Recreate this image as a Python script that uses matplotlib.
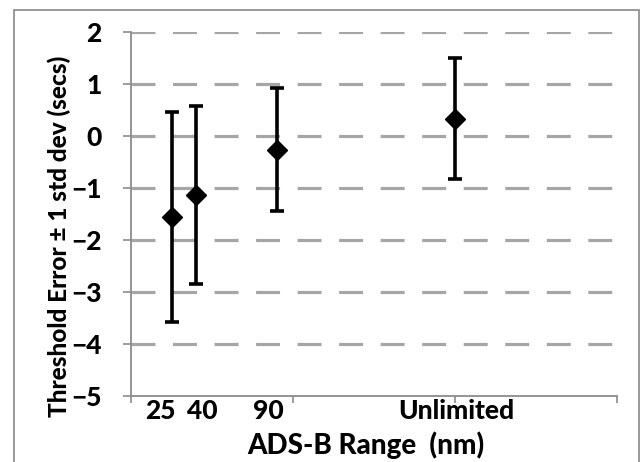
import os
import matplotlib
matplotlib.use("Agg")
import matplotlib.pyplot as plt
from matplotlib import font_manager
from matplotlib.patches import Rectangle

# ADS-B range (nm); "Unlimited" plotted at 200
ranges = [25, 40, 90, 200]
range_labels = ["25", "40", "90", "Unlimited"]
label_pos = [18, 44, 85, 201]

mean_err = [-1.55, -1.13, -0.26, 0.34]
std_err = [2.02, 1.72, 1.18, 1.17]


def find_font(fam, key):
    for f in font_manager.fontManager.ttflist:
        base = os.path.basename(f.fname).lower()
        if f.name.startswith(fam) and key in base and "italic" not in base \
                and "semi" not in base and "extra" not in base:
            return f.fname
    return None


font_file = find_font("Lato", "heavy") or find_font("Lato", "bold")


def fprop(size):
    if font_file:
        return font_manager.FontProperties(fname=font_file, size=size)
    return font_manager.FontProperties(family="DejaVu Sans", weight="bold", size=size - 3)


tick_fp = fprop(19)
xlab_fp = fprop(20)
ylab_fp = fprop(17.6)

fig = plt.figure(figsize=(6.41, 4.62), dpi=100)
ax = fig.add_axes([131 / 641, 1 - 396 / 462, (617 - 131) / 641, (396 - 32.3) / 462])

# outer chart border
fig.patches.append(Rectangle((14 / 641, -0.05), (639 - 14) / 641, 1.05 - 10 / 462,
                             transform=fig.transFigure, fill=False,
                             edgecolor="#898989", linewidth=1.2))

ax.errorbar(ranges, mean_err, yerr=std_err, fmt="D", color="black",
            markersize=10.5, elinewidth=2.6, capsize=4.8, capthick=2.6, zorder=3)

ax.set_xlim(0, 300)
ax.set_ylim(-5, 2)
ax.set_yticks(range(-5, 3))
ax.set_xticks([0, 100, 200, 300])
ax.set_xticklabels([])
ax.set_xticks(label_pos, minor=True)
ax.set_xticklabels(range_labels, minor=True, fontproperties=tick_fp)
for lab in ax.get_yticklabels():
    lab.set_fontproperties(tick_fp)

for y in range(-4, 3):
    ax.axhline(y, color="#a6a6a6", linewidth=2.3, dashes=(7.5, 5.5), zorder=1)

for s in ["top", "right"]:
    ax.spines[s].set_visible(False)
for s in ["left", "bottom"]:
    ax.spines[s].set_color("#8c8c8c")
    ax.spines[s].set_linewidth(1.3)

ax.tick_params(axis="y", which="major", direction="out", length=6, width=1.2,
               color="#8c8c8c", pad=15)
ax.tick_params(axis="x", which="major", direction="out", length=5, width=1.2,
               color="#8c8c8c")
ax.tick_params(axis="x", which="minor", length=0, pad=2)

fig.text(59 / 641, 1 - 236 / 462, "Threshold Error ± 1 std dev (secs)",
         rotation=90, ha="center", va="center", fontproperties=ylab_fp)
fig.text(366 / 641, 1 - 445 / 462, "ADS-B Range  (nm)",
         ha="center", va="center", fontproperties=xlab_fp)

fig.savefig("out.png", dpi=100)
